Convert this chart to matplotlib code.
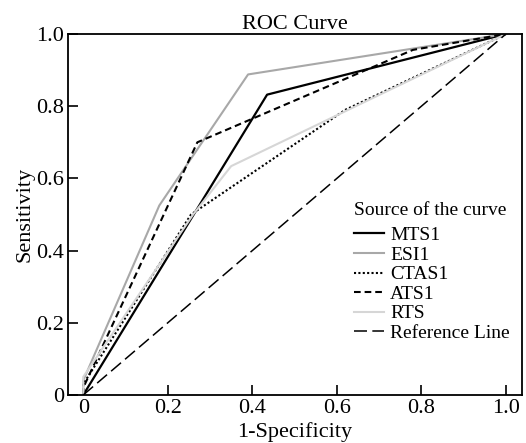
import matplotlib
matplotlib.use("Agg")
import matplotlib.pyplot as plt

plt.rcParams['font.family'] = ['Liberation Serif', 'DejaVu Serif']

# ROC curve points (1-Specificity, Sensitivity)
mts1_x = [0.0, 0.435, 1.0]
mts1_y = [0.0, 0.832, 1.0]

esi1_x = [0.0, 0.0, 0.18, 0.39, 1.0]
esi1_y = [0.0, 0.04, 0.525, 0.888, 1.0]

ctas1_x = [0.0, 0.0, 0.255, 0.62, 1.0]
ctas1_y = [0.0, 0.03, 0.50, 0.79, 1.0]

ats1_x = [0.0, 0.0, 0.27, 0.78, 1.0]
ats1_y = [0.0, 0.02, 0.70, 0.956, 1.0]

rts_x = [0.0, 0.0, 0.26, 0.35, 1.0]
rts_y = [0.0, 0.05, 0.50, 0.634, 1.0]

ref_x = [0.0, 1.0]
ref_y = [0.0, 1.0]

tick_vals = [0.0, 0.2, 0.4, 0.6, 0.8, 1.0]
tick_labels = ["0", "0.2", "0.4", "0.6", "0.8", "1.0"]

W, H = 526, 443
fig = plt.figure(figsize=(W / 100, H / 100), dpi=100)
ax = fig.add_axes([68 / W, 1 - 395 / H, (522 - 68) / W, (395 - 34) / H])

ax.plot(mts1_x, mts1_y, color='black', lw=1.6, label='MTS1')
ax.plot(esi1_x, esi1_y, color='#a8a8a8', lw=1.5, label='ESI1')
ax.plot(ctas1_x, ctas1_y, color='black', lw=1.5, linestyle=(0, (1, 1.1)), label='CTAS1')
ax.plot(ats1_x, ats1_y, color='black', lw=1.5, linestyle=(0, (3.2, 1.9)), label='ATS1')
ax.plot(rts_x, rts_y, color='#d6d6d6', lw=1.5, label='RTS')
ax.plot(ref_x, ref_y, color='black', lw=1.1, linestyle=(0, (8.5, 3.5)), label='Reference Line')

ax.set_xlim(-0.036, 1.038)
ax.set_ylim(0, 1.0)
ax.set_xticks(tick_vals)
ax.set_xticklabels(tick_labels)
ax.set_yticks(tick_vals)
ax.set_yticklabels(tick_labels)
ax.tick_params(axis='both', direction='in', length=7, width=1.2, labelsize=16, pad=3)
for s in ax.spines.values():
    s.set_linewidth(1.3)

ax.set_title('ROC Curve', fontsize=16, pad=2)
ax.set_xlabel('1-Specificity', fontsize=16, labelpad=3)
ax.set_ylabel('Sensitivity', fontsize=16, labelpad=1)

leg = ax.legend(loc='upper left', bbox_to_anchor=(354 / W, 1 - 202 / H),
                bbox_transform=fig.transFigure, frameon=False,
                title='Source of the curve', title_fontsize=14, fontsize=14,
                alignment='left', borderpad=0, borderaxespad=0,
                handlelength=1.55, handletextpad=0.3, labelspacing=0.1)
leg._legend_box.sep = 5.5

fig.savefig('out.png', dpi=100)
